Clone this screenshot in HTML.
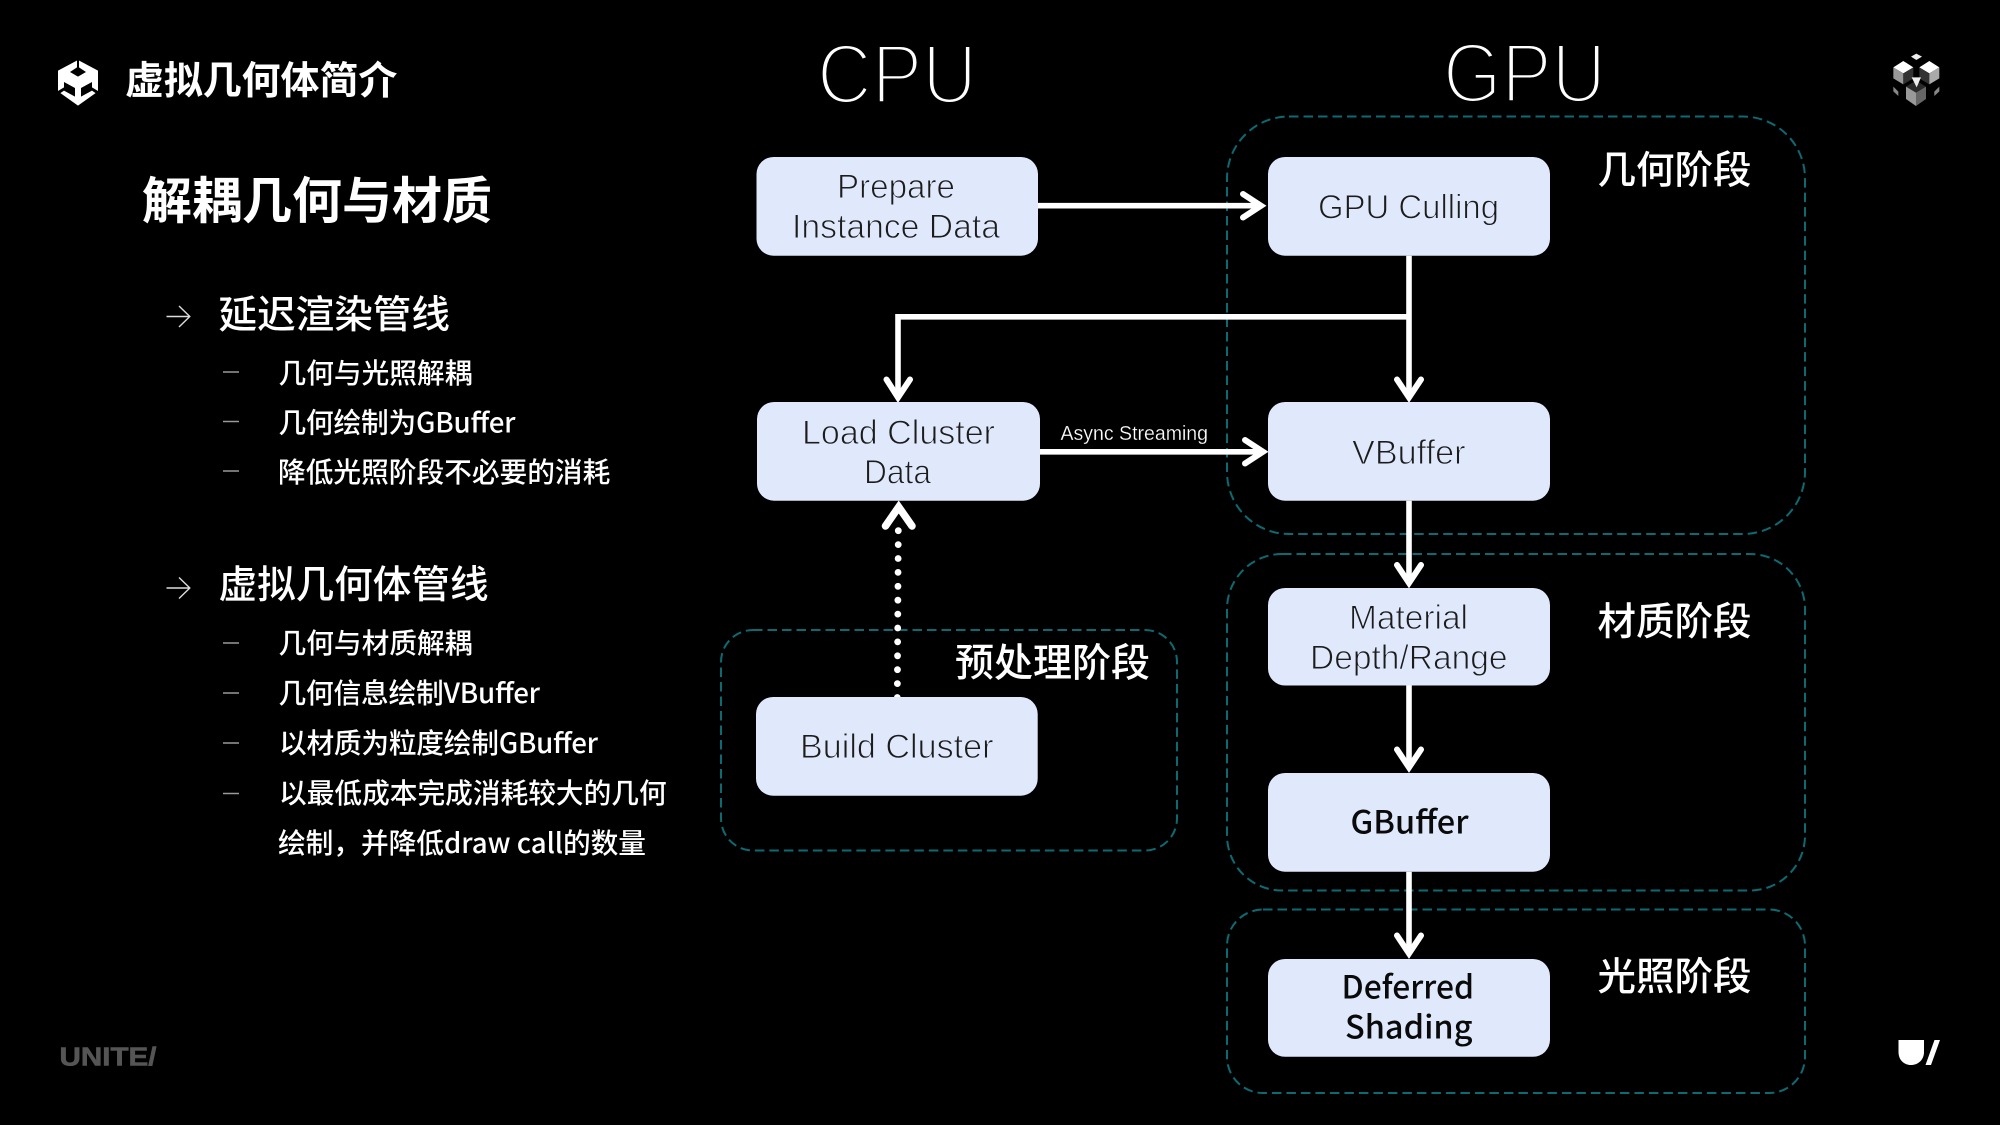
<!DOCTYPE html>
<html lang="zh">
<head>
<meta charset="utf-8">
<title>解耦几何与材质</title>
<style>
html,body{margin:0;padding:0;background:#000;width:2000px;height:1125px;overflow:hidden}
svg{display:block}
text{font-family:"Noto Sans CJK SC","Liberation Sans",sans-serif}
.zh{fill:#fff}
.sub{fill:#fff;font-size:27.7px;font-weight:500}
.head{fill:#fff;font-size:38.6px;font-weight:500}
.stage{fill:#fff;font-size:38.5px;font-weight:500}
.n{font-family:"Liberation Sans",sans-serif;font-size:34px;fill:#1c1c1c;stroke:#e0e9fb;stroke-width:.95px}
.nb{font-family:"Noto Sans CJK SC",sans-serif;font-size:32px;font-weight:500;fill:#0a0a0a}
.title{font-family:"Liberation Sans",sans-serif;font-size:84px;fill:#fff;stroke:#000;stroke-width:4px}
.box{fill:#e0e9fb}
.region{fill:none;stroke:#0c6b72;stroke-width:2;stroke-dasharray:9.5 5}
.line{fill:none;stroke:#fff;stroke-width:5.6}
.head-a{fill:none;stroke:#fff;stroke-width:6;stroke-linecap:round;stroke-linejoin:miter;stroke-miterlimit:8}
.thin{fill:none;stroke:#ddd;stroke-width:1.4}
.dash{stroke:#999;stroke-width:1.6}
</style>
</head>
<body>
<svg width="2000" height="1125" viewBox="0 0 2000 1125" xmlns="http://www.w3.org/2000/svg">
<rect width="2000" height="1125" fill="#000"/>

<!-- Unity logo -->
<g transform="translate(52 54) scale(.3333)">
  <path fill="#fff" d="M78 18 138 50V112L78 155 18 112V50Z"/>
  <path fill="#000" d="M75 16H81V40L102 54 78 68 54 54 75 40ZM36 84 69 102V128L36 110ZM120 84 87 102V128L120 110ZM16 112 36 100V110L24 118ZM140 112 120 100V110L132 118Z"/>
</g>

<text class="zh" x="125" y="94" font-size="38.9" font-weight="700">虚拟几何体简介</text>
<text class="zh" x="142" y="218.500" font-size="50" font-weight="700">解耦几何与材质</text>

<!-- first group -->
<path class="thin" d="M166.500 316.500H189.500M179 306 189.800 316.500 179 327"/>
<text class="head" x="218.500" y="328">延迟渲染管线</text>
<path class="dash" d="M223 372H239M223 421.500H239M223 471H239"/>
<text class="sub" x="278.500" y="383">几何与光照解耦</text>
<text class="sub" x="278.500" y="432.500" textLength="237" lengthAdjust="spacing">几何绘制为GBuffer</text>
<text class="sub" x="278" y="482">降低光照阶段不必要的消耗</text>

<!-- second group -->
<path class="thin" d="M166.500 588H189.500M179 577.500 189.800 588 179 598.500"/>
<text class="head" x="218.500" y="598">虚拟几何体管线</text>
<path class="dash" d="M223 643H239M223 693H239M223 743H239M223 793.500H239"/>
<text class="sub" x="278.500" y="653">几何与材质解耦</text>
<text class="sub" x="278.500" y="703" textLength="261.500" lengthAdjust="spacing">几何信息绘制VBuffer</text>
<text class="sub" x="279" y="753" textLength="319" lengthAdjust="spacing">以材质为粒度绘制GBuffer</text>
<text class="sub" x="279" y="803">以最低成本完成消耗较大的几何</text>
<text class="sub" x="278" y="853" textLength="368" lengthAdjust="spacing">绘制，并降低draw call的数量</text>

<!-- UNITE/ -->
<text x="59.500" y="1065.500" style="font-family:'Liberation Sans',sans-serif;font-size:26px;font-weight:700;fill:#555;stroke:#555;stroke-width:.6px" textLength="97" lengthAdjust="spacingAndGlyphs">UNITE/</text>

<!-- titles -->
<text class="title" x="817" y="103" textLength="160" lengthAdjust="spacingAndGlyphs">CPU</text>
<text class="title" x="1443" y="102" textLength="163" lengthAdjust="spacingAndGlyphs">GPU</text>

<!-- regions -->
<rect class="region" x="1227" y="116.500" width="578" height="417.500" rx="62"/>
<rect class="region" x="1227" y="554" width="578" height="336.500" rx="55"/>
<rect class="region" x="1227" y="909.500" width="578" height="183.500" rx="36"/>
<rect class="region" x="721" y="630" width="456" height="220.500" rx="32"/>

<!-- connectors -->
<path class="line" d="M1038 205.700H1258"/>
<path class="head-a" d="M1243 194 1261 205.700 1243 217.500"/>
<path class="line" d="M1409 255.700V395"/>
<path class="head-a" d="M1397 379.500 1409 397.500 1421 379.500"/>
<path class="line" d="M1409 316.800H898V395"/>
<path class="head-a" d="M886.500 379.500 898 397.500 910 379.500"/>
<path class="line" d="M1040 451.800H1260"/>
<path class="head-a" d="M1245 440 1263 451.800 1245 463.500"/>
<path class="line" d="M1409 500.700V580"/>
<path class="head-a" d="M1397 565 1409 583 1421 565"/>
<path class="line" d="M1409 685.500V765"/>
<path class="head-a" d="M1397 749.500 1409 767.500 1421 749.500"/>
<path class="line" d="M1409 871.700V951"/>
<path class="head-a" d="M1397 935.500 1409 953.500 1421 935.500"/>
<path d="M897.300 697.500 898.300 530" fill="none" stroke="#fff" stroke-width="6.800" stroke-linecap="round" stroke-dasharray="0 13.900"/>
<path class="head-a" style="stroke-width:7.500" d="M885.500 526 898.700 507 912 526"/>

<text x="1060.500" y="440" textLength="147.500" lengthAdjust="spacingAndGlyphs" style="font-family:'Liberation Sans',sans-serif;font-size:20px;fill:#fff;stroke:#000;stroke-width:.25px">Async Streaming</text>

<!-- nodes -->
<rect class="box" x="756.500" y="157" width="281.500" height="98.700" rx="17"/>
<rect class="box" x="757" y="402" width="283" height="98.700" rx="17"/>
<rect class="box" x="756" y="697" width="281.700" height="98.700" rx="17"/>
<rect class="box" x="1268" y="157" width="282" height="98.700" rx="17"/>
<rect class="box" x="1268" y="402" width="282" height="98.700" rx="17"/>
<rect class="box" x="1268" y="588" width="282" height="97.500" rx="17"/>
<rect class="box" x="1268" y="773" width="282" height="98.700" rx="17"/>
<rect class="box" x="1268" y="959" width="282" height="97.800" rx="17"/>

<text class="n" x="837" y="198" textLength="118" lengthAdjust="spacingAndGlyphs">Prepare</text>
<text class="n" x="792" y="238" textLength="208" lengthAdjust="spacingAndGlyphs">Instance Data</text>
<text class="n" x="802" y="444" textLength="193" lengthAdjust="spacingAndGlyphs">Load Cluster</text>
<text class="n" x="864" y="483.500" textLength="67" lengthAdjust="spacingAndGlyphs">Data</text>
<text class="n" x="800" y="758" textLength="193.500" lengthAdjust="spacingAndGlyphs">Build Cluster</text>
<text class="n" x="1318" y="218.500" textLength="181" lengthAdjust="spacingAndGlyphs">GPU Culling</text>
<text class="n" x="1352" y="464" textLength="113.500" lengthAdjust="spacingAndGlyphs">VBuffer</text>
<text class="n" x="1349" y="629" textLength="119" lengthAdjust="spacingAndGlyphs">Material</text>
<text class="n" x="1310" y="669" textLength="197.500" lengthAdjust="spacingAndGlyphs">Depth/Range</text>
<text class="nb" x="1350.500" y="833.500" textLength="118" lengthAdjust="spacingAndGlyphs">GBuffer</text>
<text class="nb" x="1341.500" y="998.500" textLength="132.500" lengthAdjust="spacingAndGlyphs">Deferred</text>
<text class="nb" x="1345" y="1038.500" textLength="127.500" lengthAdjust="spacingAndGlyphs">Shading</text>

<!-- stage labels -->
<text class="stage" x="1597.500" y="183.500">几何阶段</text>
<text class="stage" x="1597.500" y="635">材质阶段</text>
<text class="stage" x="1597.500" y="990">光照阶段</text>
<text class="stage" x="955" y="676.500" style="font-size:39px">预处理阶段</text>

<!-- cube icon -->
<g transform="translate(1870 30) scale(.3333)">
  <path fill="#eee" d="M123 80 139 71 156 80 139 90Z"/>
  <path fill="#fff" d="M70 112 100 93 130 112 100 130Z"/>
  <path fill="#999" d="M70 112V145L100 163V130Z"/>
  <path fill="#333" d="M100 130V163L130 145V112Z"/>
  <path fill="#fff" d="M148 112 178 93 208 112 178 130Z"/>
  <path fill="#333" d="M148 112V145L178 163V130Z"/>
  <path fill="#aaa" d="M178 130V163L208 145V112Z"/>
  <path fill="#2a2a2a" d="M108 170 138 152 168 170 138 188Z"/>
  <path fill="#999" d="M108 170V207L138 228V188Z"/>
  <path fill="#666" d="M138 188V228L168 207V170Z"/>
  <path fill="#eee" d="M125 142 153 142 140 172Z"/>
  <path fill="#888" d="M70 170 85 185V198L70 184Z"/>
  <path fill="#888" d="M208 170 193 185V198L208 184Z"/>
</g>

<!-- U/ mark -->
<path fill="#fff" d="M1898.500 1040H1924V1052C1924 1060 1918 1065 1911 1065 1904 1065 1898.500 1060 1898.500 1052ZM1934.500 1040H1940L1931 1065H1925.500Z"/>
</svg>
</body>
</html>
